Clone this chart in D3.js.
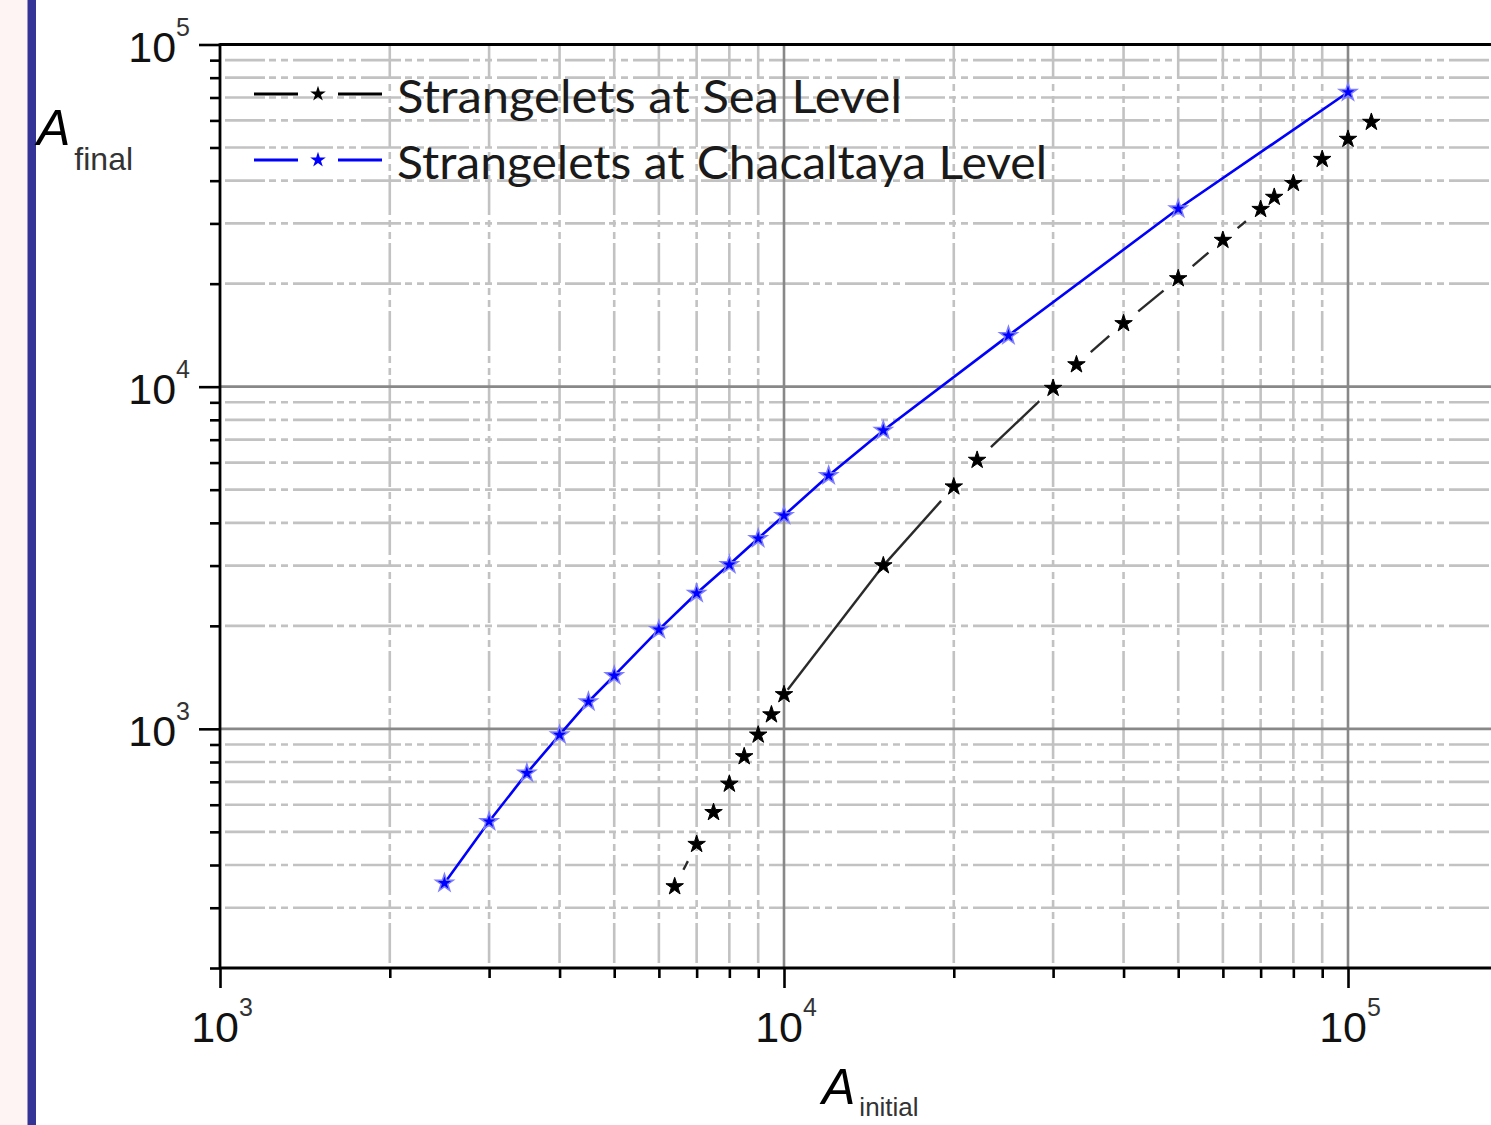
<!DOCTYPE html>
<html>
<head>
<meta charset="utf-8">
<script src="https://cdn.jsdelivr.net/npm/d3@7"></script>
<style>
  body { margin: 0; background: #fff; }
  svg text { font-family: "Liberation Sans", Arial, sans-serif; }
</style>
</head>
<body>
<div id="chart"></div>
<script>
// Strangelets at sea level (A_initial, A_final)
const seaInitial = [6400, 7000, 7500, 8000, 8500, 9000, 9500, 10000, 15000, 20000, 22000, 30000, 33000, 40000, 50000, 60000, 70000, 74000, 80000, 90000, 100000, 110000];
const seaFinal   = [346, 460, 570, 690, 830, 960, 1100, 1260, 3000, 5100, 6100, 9900, 11600, 15300, 20700, 26800, 33000, 35800, 39300, 46200, 52900, 59300];

// Strangelets at Chacaltaya level
const chacInitial = [2500, 3000, 3500, 4000, 4500, 5000, 6000, 7000, 8000, 9000, 10000, 12000, 15000, 25000, 50000, 100000];
const chacFinal   = [354, 536, 742, 960, 1200, 1430, 1950, 2490, 3020, 3600, 4200, 5500, 7450, 14100, 33100, 72500];

const seriesNames = ["Strangelets at Sea Level", "Strangelets at Chacaltaya Level"];
const majorExps = [3, 4, 5];
const minorMult = [2, 3, 4, 5, 6, 7, 8, 9];

const W = 1491, H = 1125;
const pLeft = 220, pRight = 1491, pTop = 44.5, pBottom = 968;

const svg = d3.select("#chart")
  .append("svg")
    .attr("width", W)
    .attr("height", H);

// page decoration on the left
svg.append("rect").attr("x", 0).attr("y", 0).attr("width", 28).attr("height", H).attr("fill", "#fff4f4");
svg.append("rect").attr("x", 27.5).attr("y", 0).attr("width", 8.5).attr("height", H).attr("fill", "#343497");

// scales
const x = d3.scaleLog().domain([1e3, 1e5]).range([pLeft, 1348]);
const y = d3.scaleLog().domain([200, 1e5]).range([pBottom, pTop]);

// minor values inside the plot
const minorX = [];
const minorY = [];
[3, 4, 5].forEach(e => minorMult.forEach(m => {
  const v = m * Math.pow(10, e);
  if (x(v) < pRight) minorX.push(v);
}));
[2, 3, 4].forEach(e => minorMult.forEach(m => {
  const v = m * Math.pow(10, e);
  if (v > 200 && v < 1e5) minorY.push(v);
}));

svg.append("clipPath").attr("id", "plot")
  .append("rect").attr("x", pLeft).attr("y", pTop).attr("width", pRight - pLeft).attr("height", pBottom - pTop);

const grid = svg.append("g").attr("clip-path", "url(#plot)");
const dash = "40,4,7,5,7,5";

// minor grid
grid.selectAll("line.hminor")
  .data(minorY)
  .enter().append("line")
    .attr("x1", pLeft).attr("x2", pRight)
    .attr("y1", d => y(d)).attr("y2", d => y(d))
    .attr("stroke", "#c2c2c2").attr("stroke-width", 2.6)
    .attr("stroke-dasharray", dash).attr("stroke-dashoffset", 63);

grid.selectAll("line.vminor")
  .data(minorX)
  .enter().append("line")
    .attr("x1", d => x(d)).attr("x2", d => x(d))
    .attr("y1", pBottom).attr("y2", pTop)
    .attr("stroke", "#c2c2c2").attr("stroke-width", 2.6)
    .attr("stroke-dasharray", dash).attr("stroke-dashoffset", 63);

// major grid
grid.selectAll("line.hmajor")
  .data([1e3, 1e4])
  .enter().append("line")
    .attr("x1", pLeft).attr("x2", pRight)
    .attr("y1", d => y(d)).attr("y2", d => y(d))
    .attr("stroke", "#888").attr("stroke-width", 2.6);

grid.selectAll("line.vmajor")
  .data([1e4, 1e5])
  .enter().append("line")
    .attr("x1", d => x(d)).attr("x2", d => x(d))
    .attr("y1", pBottom).attr("y2", pTop)
    .attr("stroke", "#888").attr("stroke-width", 2.6);

// axes (ticks only, frame lines drawn separately)
function styleAxis(g) {
  g.select(".domain").remove();
  g.selectAll("line").attr("stroke", "#000").attr("stroke-width", 2.6);
}
svg.append("g").attr("transform", `translate(${pLeft},0)`)
  .call(d3.axisLeft(y).tickValues(minorY.concat([200])).tickSize(10).tickFormat(""))
  .call(styleAxis);
svg.append("g").attr("transform", `translate(${pLeft},0)`)
  .call(d3.axisLeft(y).tickValues(majorExps.map(e => Math.pow(10, e))).tickSize(21).tickFormat(""))
  .call(styleAxis);
svg.append("g").attr("transform", `translate(0,${pBottom})`)
  .call(d3.axisBottom(x).tickValues(minorX).tickSize(10).tickFormat(""))
  .call(styleAxis);
svg.append("g").attr("transform", `translate(0,${pBottom})`)
  .call(d3.axisBottom(x).tickValues(majorExps.map(e => Math.pow(10, e))).tickSize(20).tickFormat(""))
  .call(styleAxis);

// frame
svg.append("line").attr("x1", pLeft).attr("x2", pLeft).attr("y1", pTop - 1.3).attr("y2", pBottom + 1.3)
  .attr("stroke", "#000").attr("stroke-width", 2.8);
svg.append("line").attr("x1", pLeft).attr("x2", pRight).attr("y1", pBottom).attr("y2", pBottom)
  .attr("stroke", "#000").attr("stroke-width", 2.8);
svg.append("line").attr("x1", pLeft).attr("x2", pRight).attr("y1", pTop).attr("y2", pTop)
  .attr("stroke", "#000").attr("stroke-width", 2.8);

// tick labels
const yLab = svg.selectAll("text.ylab")
  .data(majorExps)
  .enter().append("text")
    .attr("x", 190)
    .attr("y", d => y(Math.pow(10, d)) + 17)
    .attr("text-anchor", "end")
    .attr("fill", "#111")
    .style("font-size", "43px")
    .text("10");
yLab.append("tspan").attr("dy", -26).style("font-size", "25px").attr("fill", "#333").text(d => d);

const xLab = svg.selectAll("text.xlab")
  .data(majorExps)
  .enter().append("text")
    .attr("x", d => x(Math.pow(10, d)) + 2)
    .attr("y", 1042)
    .attr("text-anchor", "middle")
    .attr("fill", "#111")
    .style("font-size", "43px")
    .text("10");
xLab.append("tspan").attr("dy", -26).style("font-size", "25px").attr("fill", "#333").text(d => d);

// axis titles
const yTitle = svg.append("text").attr("x", 37).attr("y", 145).attr("fill", "#000")
  .style("font-size", "50px").style("font-style", "italic").text("A");
yTitle.append("tspan").attr("dx", 4).attr("dy", 25).style("font-size", "32px").style("font-style", "normal")
  .attr("fill", "#333").text("final");

const xTitle = svg.append("text").attr("x", 822).attr("y", 1104).attr("fill", "#000")
  .style("font-size", "50px").style("font-style", "italic").text("A");
xTitle.append("tspan").attr("dx", 4).attr("dy", 12).style("font-size", "26px").style("font-style", "normal")
  .attr("fill", "#333").text("initial");

// data
const sea = seaInitial.map((d, i) => ({x: d, y: seaFinal[i]}));
const chac = chacInitial.map((d, i) => ({x: d, y: chacFinal[i]}));

const plot = svg.append("g").attr("clip-path", "url(#plot)");

// blue line: continuous
plot.append("path")
  .datum(chac)
  .attr("fill", "none")
  .attr("stroke", "#0000ff")
  .attr("stroke-width", 2.6)
  .attr("d", d3.line().x(d => x(d.x)).y(d => y(d.y)));

// black line: broken near each symbol
const symbolGap = 19;
const gapOverride = {10000: 6, 15000: 0};
const gapAt = v => (v in gapOverride ? gapOverride[v] : symbolGap);
const segs = [];
for (let i = 0; i < sea.length - 1; i++) {
  const a = sea[i], b = sea[i + 1];
  const x0 = x(a.x), y0 = y(a.y), x1 = x(b.x), y1 = y(b.y);
  const L = Math.hypot(x1 - x0, y1 - y0);
  const g0 = gapAt(a.x), g1 = gapAt(b.x);
  if (L > g0 + g1 + 2) {
    const ux = (x1 - x0) / L, uy = (y1 - y0) / L;
    segs.push({x1: x0 + ux * g0, y1: y0 + uy * g0, x2: x1 - ux * g1, y2: y1 - uy * g1});
  }
}
plot.selectAll("line.sea")
  .data(segs)
  .enter().append("line")
    .attr("x1", d => d.x1).attr("y1", d => d.y1)
    .attr("x2", d => d.x2).attr("y2", d => d.y2)
    .attr("stroke", "#2a2a2a")
    .attr("stroke-width", 2.4);

const star = d3.symbol().type(d3.symbolStar).size(95);

plot.selectAll("path.sea")
  .data(sea)
  .enter().append("path")
    .attr("d", star)
    .attr("transform", d => `translate(${x(d.x)},${y(d.y)})`)
    .attr("fill", "#000")
    .attr("stroke", "#000").attr("stroke-width", 1);

plot.selectAll("path.chac")
  .data(chac)
  .enter().append("path")
    .attr("d", star)
    .attr("transform", d => `translate(${x(d.x)},${y(d.y)})`)
    .attr("fill", "#0000ff")
    .attr("stroke", "#7d7dff").attr("stroke-width", 1.5);

// legend
const legendColors = ["#000", "#0000ff"];
const legend = svg.selectAll("g.legend")
  .data(seriesNames)
  .enter().append("g")
    .attr("transform", (d, i) => `translate(0,${94 + i * 66})`);
legend.append("line").attr("x1", 254).attr("x2", 298).attr("y1", 0).attr("y2", 0)
  .attr("stroke", (d, i) => legendColors[i]).attr("stroke-width", 2.8);
legend.append("line").attr("x1", 338).attr("x2", 382).attr("y1", 0).attr("y2", 0)
  .attr("stroke", (d, i) => legendColors[i]).attr("stroke-width", 2.8);
legend.append("path").attr("d", d3.symbol().type(d3.symbolStar).size(75)).attr("transform", "translate(318,0)")
  .attr("fill", (d, i) => legendColors[i]);
legend.append("text")
  .attr("x", 397)
  .attr("y", 19)
  .attr("fill", "#1a1a1a")
  .style("font-family", "Lato, 'DejaVu Sans', sans-serif")
  .style("font-size", "46px")
  .attr("textLength", (d, i) => i === 0 ? 505 : 650)
  .attr("lengthAdjust", "spacingAndGlyphs")
  .text(d => d);
</script>
</body>
</html>
